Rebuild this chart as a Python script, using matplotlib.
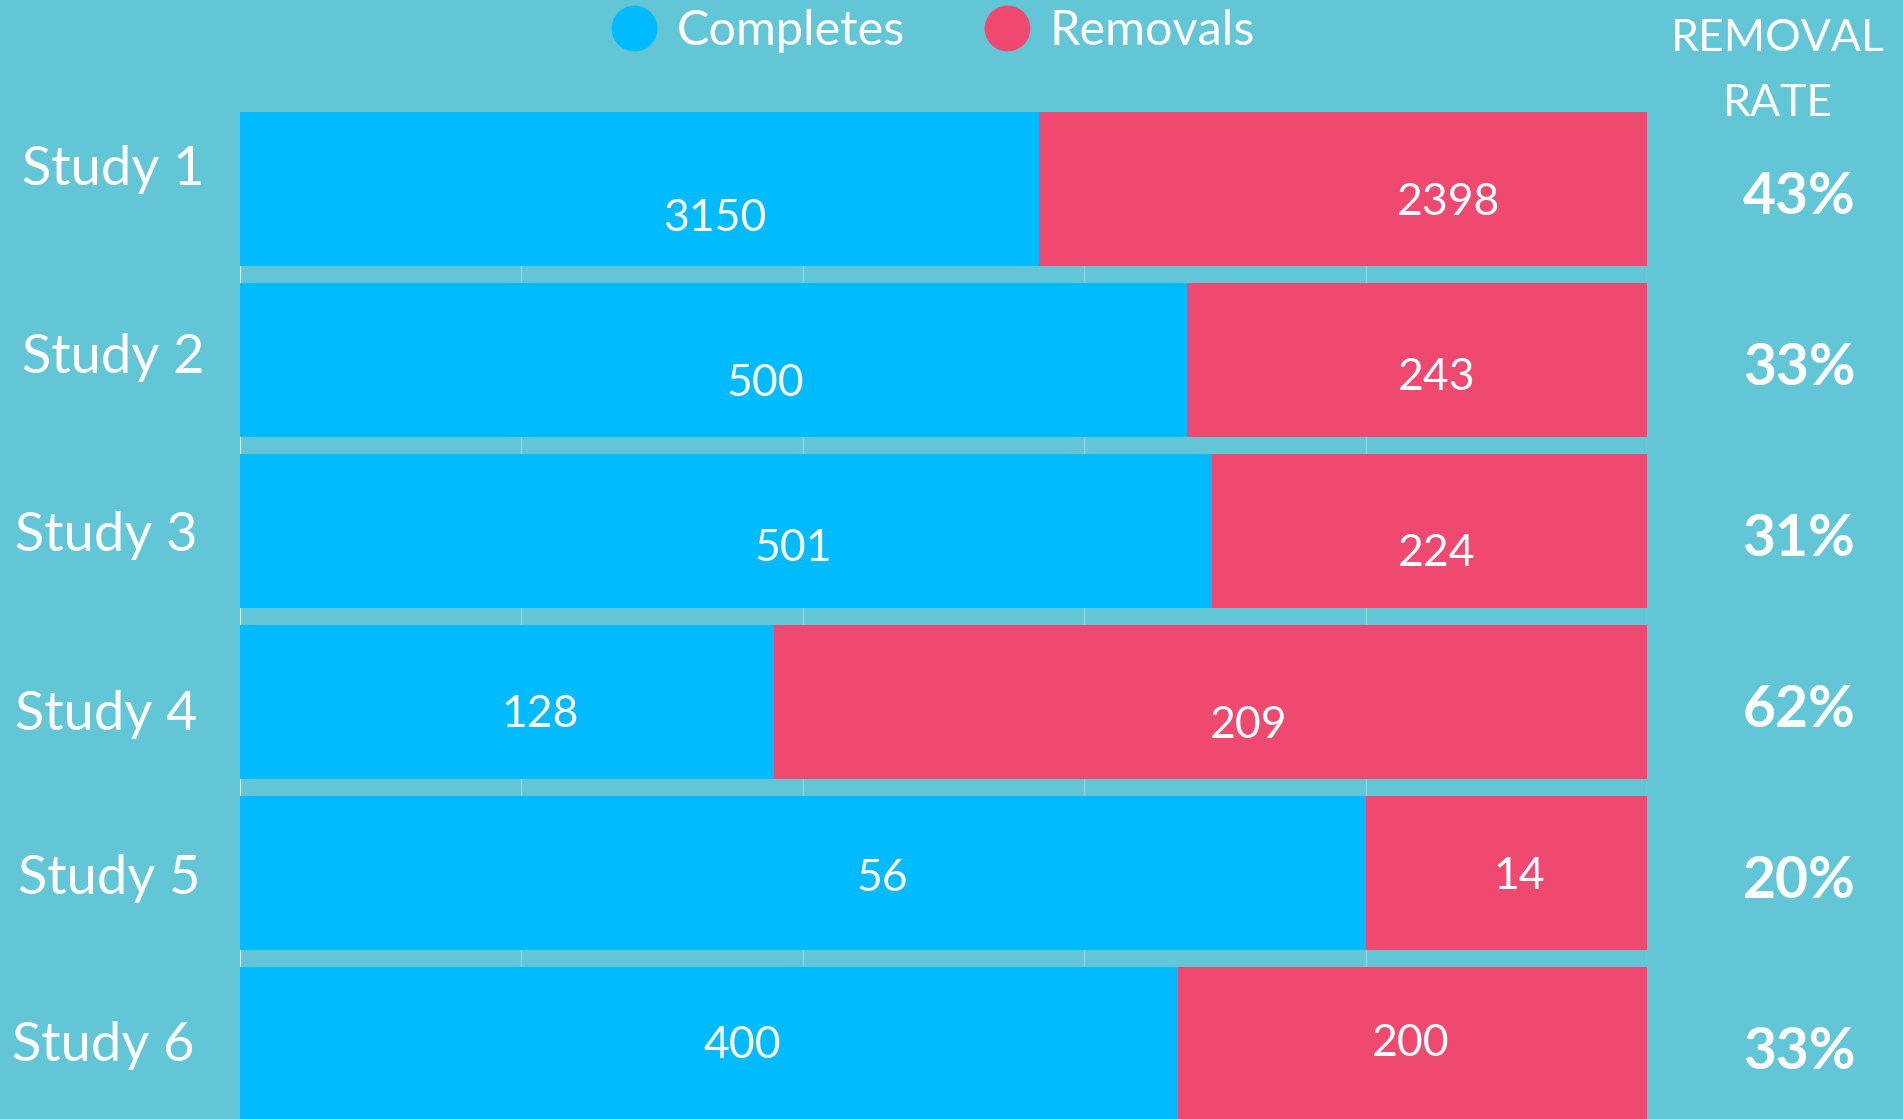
import matplotlib.pyplot as plt
from matplotlib.lines import Line2D
import numpy as np

studies = ["Study 1", "Study 2", "Study 3", "Study 4", "Study 5", "Study 6"]
completes = [3150, 500, 501, 128, 56, 400]
removals = [2398, 243, 224, 209, 14, 200]

# label nudges (points) to follow the original layout
comp_off = [(54, -21), (37, -17), (48, -13), (24, -9), (57, -4), (24, -1)]
rem_off = [(76, -10), (14, -13), (5, -16), (27, -17), (9, -3), (-1, 0)]
name_off = [(113, 14), (113, 2), (106, -3), (106, -9), (109, -4), (103, -1)]

BG = "#62C6D6"
BLUE = "#00BBFF"
RED = "#F0496F"
FONT = "Lato"

plt.rcParams['font.family'] = [FONT, 'DejaVu Sans']

comp = np.array(completes, dtype=float)
rem = np.array(removals, dtype=float)
total = comp + rem
comp_share = comp / total
rem_share = rem / total
rate = np.round(rem_share * 100).astype(int)

fig = plt.figure(figsize=(19.03, 11.19), dpi=100, facecolor=BG)
ax = fig.add_axes([240 / 1903, 0, 1407 / 1903, 1007 / 1119])
ax.set_facecolor(BG)

y = np.arange(len(studies))
ax.barh(y, comp_share, height=0.9, color=BLUE, zorder=2)
ax.barh(y, rem_share, left=comp_share, height=0.9, color=RED, zorder=2)

ax.set_xlim(0, 1)
ax.set_ylim(5.44, -0.45)
ax.set_xticks(np.arange(0, 1.01, 0.2))
ax.set_yticks([])
ax.xaxis.grid(True, color="white", alpha=0.25, lw=1)
ax.axvline(0, color="white", alpha=0.7, lw=1.5, zorder=1)
ax.set_axisbelow(True)
ax.tick_params(length=0, labelbottom=False)
for s in ax.spines.values():
    s.set_visible(False)

for i in range(len(studies)):
    ax.annotate(str(completes[i]), (comp_share[i] / 2, y[i]), xytext=comp_off[i],
                textcoords="offset points", ha="center", va="center",
                color="white", fontsize=32)
    ax.annotate(str(removals[i]), (comp_share[i] + rem_share[i] / 2, y[i]), xytext=rem_off[i],
                textcoords="offset points", ha="center", va="center",
                color="white", fontsize=32)
    # study name on the left
    ax.annotate(studies[i], (0, y[i]), xytext=((name_off[i][0] - 240) * 0.72, name_off[i][1]),
                textcoords="offset points", ha="center", va="center",
                color="white", fontsize=39)
    # removal rate column
    ax.annotate(f"{rate[i]}%", (1, y[i]), xytext=((1799 - 1647) * 0.72, -6.5),
                textcoords="offset points", ha="center", va="center",
                color="white", fontsize=41, fontweight="bold")

fig.text(1778 / 1903, 1 - 71 / 1119, "REMOVAL\nRATE", ha="center", va="center",
         color="white", fontsize=32, linespacing=1.7)

handles = [Line2D([], [], marker="o", ls="", markersize=32, color=BLUE),
           Line2D([], [], marker="o", ls="", markersize=32, color=RED)]
fig.legend(handles, ["Completes", "Removals"], loc="center", bbox_to_anchor=(0.49, 0.972),
           ncol=2, frameon=False, labelcolor="white",
           handlelength=1.0, handletextpad=0.38, columnspacing=1.6,
           prop={"size": 35})

fig.savefig("out.png", dpi=100, facecolor=BG)
